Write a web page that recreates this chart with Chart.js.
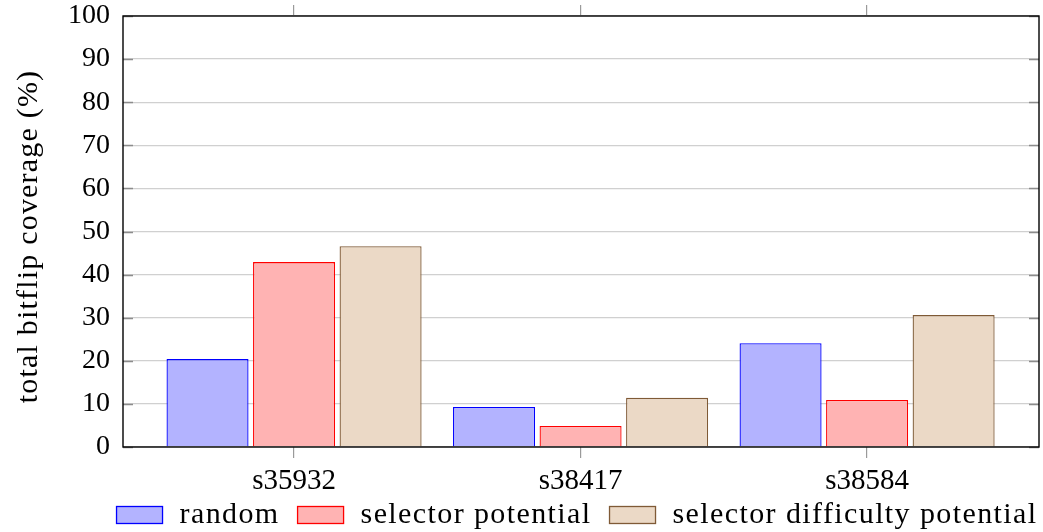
<!DOCTYPE html>
<html>
<head>
<meta charset="utf-8">
<script src="https://cdn.jsdelivr.net/npm/chart.js@4.4.1/dist/chart.umd.min.js"></script>
<style>
  html, body { margin: 0; padding: 0; background: #ffffff; }
  #wrap { width: 1043px; height: 532px; }
</style>
</head>
<body>
<div id="wrap"><canvas id="c" width="1043" height="532"></canvas></div>
<script>
// Benchmark circuits and total bitflip coverage (%) per selection strategy
const categories = ['s35932', 's38417', 's38584'];
const randomCoverage = [20.4, 9.3, 24.1];
const selectorPotential = [42.9, 4.9, 10.9];
const selectorDifficultyPotential = [46.6, 11.4, 30.6];
const seriesNames = ['random', 'selector potential', 'selector difficulty potential'];
const yTickValues = [0, 10, 20, 30, 40, 50, 60, 70, 80, 90, 100];
const yAxisTitle = 'total bitflip coverage (%)';

const FONT = "'Liberation Serif', 'Times New Roman', serif";
const FONT_SIZE = 28;

const toPoints = vals => vals.map((v, i) => ({ x: i, y: v }));

// Plot frame, inner y tick marks, y axis title and the legend row
const framePlugin = {
  id: 'frame',
  afterDatasetsDraw(chart) {
    const { ctx, chartArea: a, scales } = chart;
    ctx.save();
    // inner tick marks on the left and right edges
    ctx.strokeStyle = '#8c8c8c';
    ctx.lineWidth = 1.3;
    yTickValues.forEach(v => {
      const y = Math.round(scales.y.getPixelForValue(v)) + 0.5;
      ctx.beginPath();
      ctx.moveTo(a.left, y); ctx.lineTo(a.left + 10, y);
      ctx.moveTo(a.right - 10, y); ctx.lineTo(a.right, y);
      ctx.stroke();
    });
    ctx.strokeStyle = '#000000';
    ctx.lineWidth = 1.4;
    ctx.strokeRect(a.left, a.top, a.right - a.left, a.bottom - a.top);
    ctx.restore();
  },
  afterDraw(chart) {
    const { ctx, chartArea: a } = chart;

    // rotated y axis title
    ctx.save();
    ctx.font = '30px ' + FONT;
    ctx.letterSpacing = '1.2px';
    ctx.fillStyle = '#000000';
    ctx.translate(37, (a.top + a.bottom) / 2 + 5);
    ctx.rotate(-Math.PI / 2);
    ctx.textAlign = 'center';
    ctx.textBaseline = 'alphabetic';
    ctx.fillText(yAxisTitle, 0, 0);
    ctx.restore();

    // legend row
    const boxW = 46, boxH = 17, boxGap = 17, itemGap = 18;
    const rowY = 515;
    ctx.save();
    ctx.font = '30px ' + FONT;
    ctx.letterSpacing = '1.4px';
    const items = chart.data.datasets.map(ds => ({
      ds, w: ctx.measureText(ds.label).width
    }));
    const total = items.reduce((s, it) => s + boxW + boxGap + it.w, 0) + itemGap * (items.length - 1);
    const center = (a.left + a.right) / 2 - 4;
    let x = center - total / 2;
    items.forEach(it => {
      ctx.fillStyle = it.ds.backgroundColor;
      ctx.fillRect(x, rowY - boxH / 2, boxW, boxH);
      ctx.strokeStyle = it.ds.borderColor;
      ctx.lineWidth = 1.3;
      ctx.strokeRect(x, rowY - boxH / 2, boxW, boxH);
      x += boxW + boxGap;
      ctx.fillStyle = '#000000';
      ctx.textBaseline = 'alphabetic';
      ctx.textAlign = 'left';
      ctx.fillText(it.ds.label, x, rowY + 8);
      x += it.w + itemGap;
    });
    ctx.restore();
  }
};

const xMin = -0.597, xMax = 2.6;
const fixedTicks = scale => { scale.ticks = [0, 1, 2].map(v => ({ value: v })); };
const noPadX = s => { s.paddingLeft = 0; s.paddingRight = 0; };

new Chart(document.getElementById('c'), {
  type: 'bar',
  data: {
    datasets: [
      {
        label: seriesNames[0],
        data: toPoints(randomCoverage),
        backgroundColor: '#b3b3ff',
        borderColor: '#0000ff',
        borderWidth: 1.3
      },
      {
        label: seriesNames[1],
        data: toPoints(selectorPotential),
        backgroundColor: '#ffb3b3',
        borderColor: '#ff0000',
        borderWidth: 1.3
      },
      {
        label: seriesNames[2],
        data: toPoints(selectorDifficultyPotential),
        backgroundColor: '#ebd9c6',
        borderColor: '#7f5a36',
        borderWidth: 1.3
      }
    ]
  },
  options: {
    responsive: false,
    animation: false,
    devicePixelRatio: 1,
    categoryPercentage: 0.906,
    barPercentage: 0.948,
    layout: { padding: { left: 0, right: 4, top: 0, bottom: 0 } },
    plugins: {
      legend: { display: false },
      tooltip: { enabled: false }
    },
    scales: {
      x: {
        type: 'linear',
        position: 'bottom',
        offset: false,
        min: xMin,
        max: xMax,
        afterBuildTicks: fixedTicks,
        afterFit: s => { s.height = 85; noPadX(s); },
        grid: {
          offset: false,
          drawOnChartArea: false,
          drawTicks: true,
          tickLength: 11,
          color: '#9a9a9a',
          lineWidth: 1.2
        },
        border: { display: false },
        ticks: {
          padding: 6,
          color: '#000000',
          font: { family: FONT, size: 29 },
          callback: v => categories[v] ?? ''
        }
      },
      xTop: {
        type: 'linear',
        position: 'top',
        offset: false,
        min: xMin,
        max: xMax,
        afterBuildTicks: fixedTicks,
        afterFit: s => { s.height = 16; noPadX(s); },
        grid: {
          offset: false,
          drawOnChartArea: false,
          drawTicks: true,
          tickLength: 11,
          color: '#9a9a9a',
          lineWidth: 1.2
        },
        border: { display: false },
        ticks: { display: false }
      },
      y: {
        type: 'linear',
        position: 'left',
        min: 0,
        max: 100,
        afterBuildTicks: s => { s.ticks = yTickValues.map(v => ({ value: v })); },
        afterFit: s => { s.width = 123; s.paddingTop = 0; s.paddingBottom = 0; },
        grid: {
          color: '#d0d0d0',
          lineWidth: 1.3,
          drawTicks: false
        },
        border: { display: false },
        ticks: {
          padding: 13,
          color: '#000000',
          font: { family: FONT, size: FONT_SIZE }
        }
      }
    }
  },
  plugins: [framePlugin]
});
</script>
</body>
</html>
